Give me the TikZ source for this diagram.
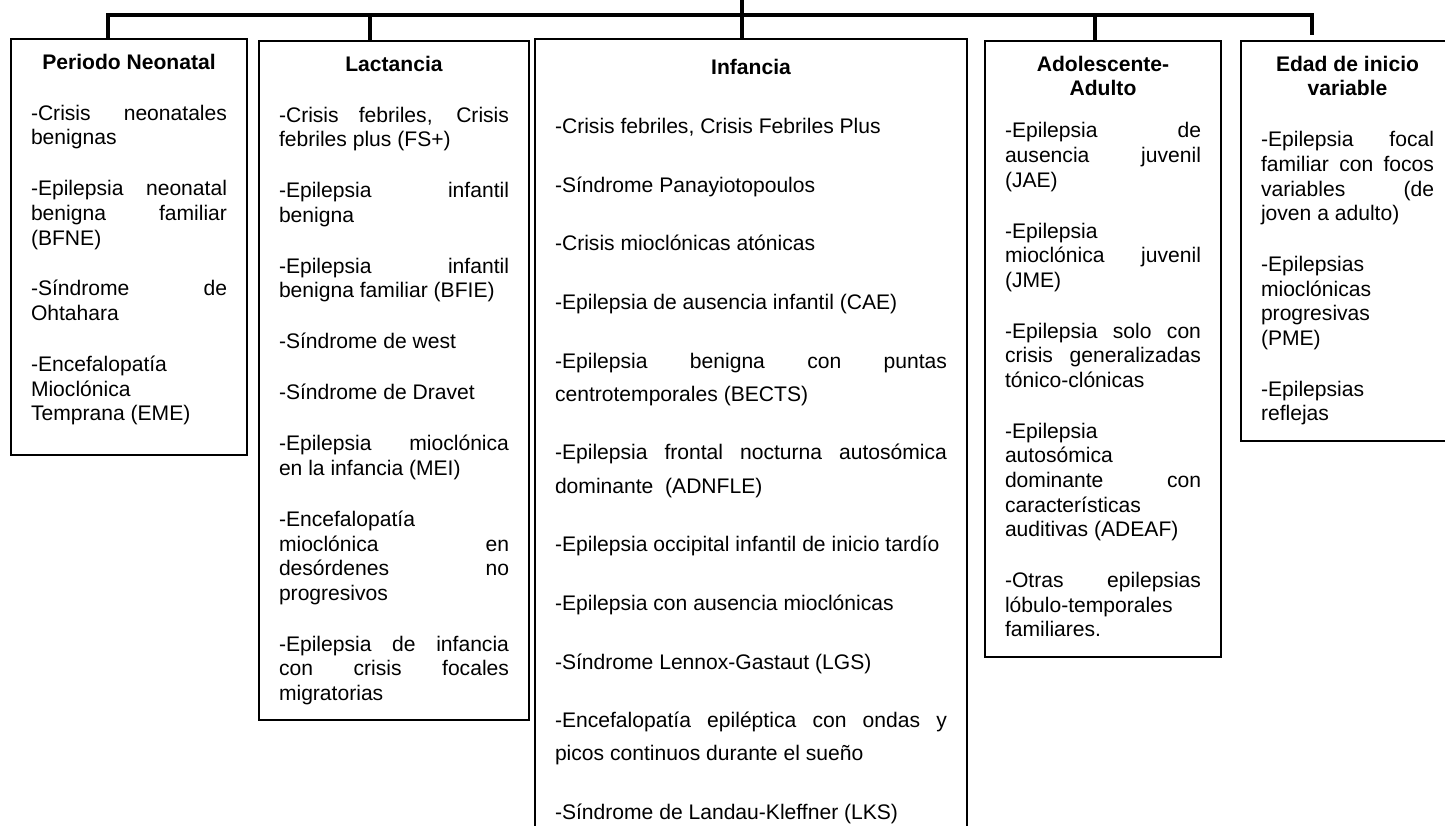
\documentclass[tikz,border=0pt]{standalone}
\usepackage{fontspec}
\setmainfont{Liberation Sans}
\hyphenpenalty=10000
\tolerance=10000
\hbadness=10000
\newcommand{\boxhead}[1]{{\centering\bfseries #1\par}}

\begin{document}
\begin{tikzpicture}[line join=miter,
  box/.style={draw,line width=0.04cm,anchor=north west,inner xsep=0.4cm,inner ysep=0.3cm,align=justify,
    font=\fontsize{12pt}{14pt}\selectfont,
    execute at begin node={\setlength{\parskip}{15pt}},
    execute at end node={\rule[-0.1cm]{0pt}{0pt}}},
  widebox/.style={box,inner ysep=0.41cm,font=\fontsize{12pt}{18.8pt}\selectfont,
    execute at begin node={\setlength{\parskip}{14.6pt}}},
  link/.style={line width=0.07cm}]
\useasboundingbox (0,0) rectangle (28.9,-16.5);
\clip (0,0) rectangle (28.9,-16.5);

\node[box,text width=3.92cm] (neo) at (0.20,-0.76) {\boxhead{Periodo Neonatal}
-Crisis neonatales\linebreak benignas

-Epilepsia neonatal\linebreak benigna familiar\linebreak (BFNE)

-Síndrome de\linebreak Ohtahara

-Encefalopatía\linebreak Mioclónica\linebreak Temprana (EME)\rule[-0.38cm]{0pt}{0pt}};

\node[box,text width=4.60cm] (lac) at (5.16,-0.80) {\boxhead{Lactancia}
-Crisis febriles, Crisis\linebreak febriles plus (FS+)

-Epilepsia infantil\linebreak benigna

-Epilepsia infantil\linebreak benigna familiar (BFIE)

-Síndrome de west

-Síndrome de Dravet

-Epilepsia mioclónica\linebreak en la infancia (MEI)

-Encefalopatía\linebreak mioclónica en\linebreak desórdenes no\linebreak progresivos

-Epilepsia de infancia\linebreak con crisis focales\linebreak migratorias};

\node[widebox,text width=7.84cm] (inf) at (10.68,-0.76) {\boxhead{Infancia}
-Crisis febriles, Crisis Febriles Plus

-Síndrome Panayiotopoulos

-Crisis mioclónicas atónicas

-Epilepsia de ausencia infantil (CAE)

-Epilepsia benigna con puntas\linebreak centrotemporales (BECTS)

-Epilepsia frontal nocturna autosómica\linebreak dominante\ \ (ADNFLE)

-Epilepsia occipital infantil de inicio tardío

-Epilepsia con ausencia mioclónicas

-Síndrome Lennox-Gastaut (LGS)

-Encefalopatía epiléptica con ondas y\linebreak picos continuos durante el sueño

-Síndrome de Landau-Kleffner (LKS)};

\node[box,text width=3.92cm] (ado) at (19.68,-0.80) {\boxhead{Adolescente-\\Adulto}\vspace{-0.18cm}
-Epilepsia de\linebreak ausencia juvenil\linebreak (JAE)

-Epilepsia\linebreak mioclónica juvenil\linebreak (JME)

-Epilepsia solo con\linebreak crisis generalizadas\linebreak tónico-clónicas

-Epilepsia\linebreak autosómica\linebreak dominante con\linebreak características\linebreak auditivas (ADEAF)

-Otras epilepsias\linebreak lóbulo-temporales\linebreak familiares.};

\node[box,text width=3.46cm] (edad) at (24.80,-0.80) {\boxhead{Edad de inicio\\variable}
-Epilepsia focal\linebreak familiar con focos\linebreak variables (de\linebreak joven a adulto)

-Epilepsias\linebreak mioclónicas\linebreak progresivas\linebreak (PME)

-Epilepsias\linebreak reflejas};

\coordinate (top) at (14.84,0);
\coordinate (bar1) at (2.16,-0.30);
\coordinate (bar2) at (7.40,-0.30);
\coordinate (bar4) at (21.90,-0.30);
\coordinate (bar5) at (26.24,-0.30);
\coordinate (end5) at (26.24,-0.70);
\draw[link] (neo.north -| bar1) |- (bar5) -- (end5);
\draw[link] (bar2) -- (lac.north -| bar2);
\draw[link] (top) -- (inf.north -| top);
\draw[link] (bar4) -- (ado.north -| bar4);
\end{tikzpicture}
\end{document}
